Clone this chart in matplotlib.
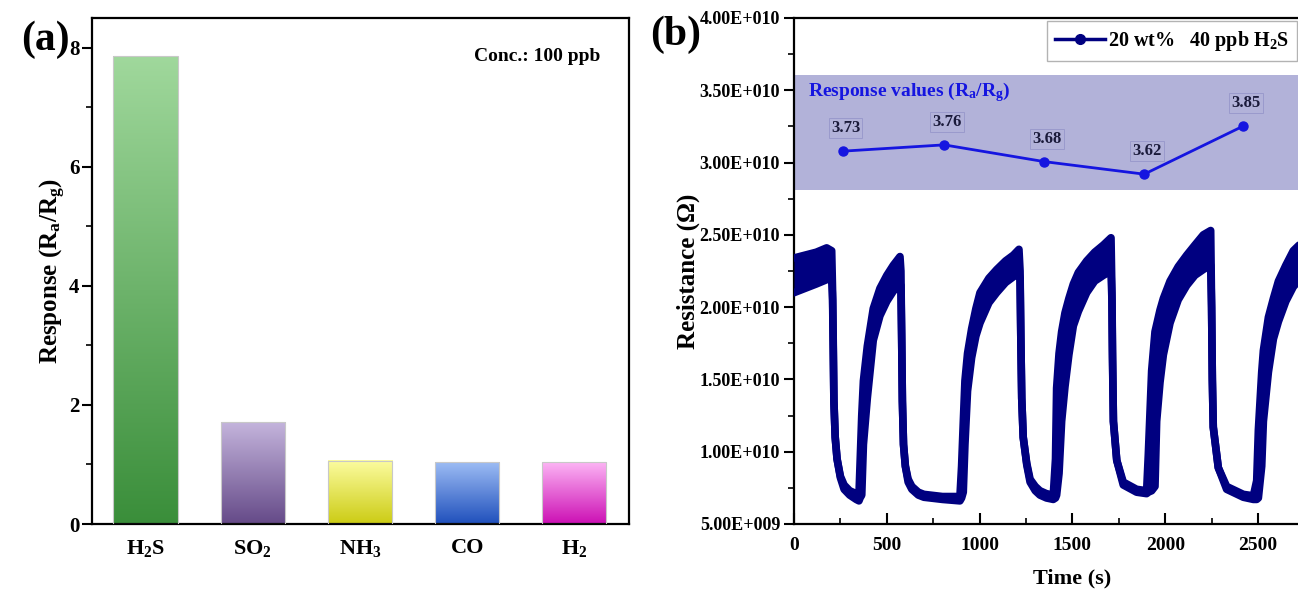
import numpy as np
import matplotlib.pyplot as plt
from matplotlib.lines import Line2D
from matplotlib.ticker import MultipleLocator, FuncFormatter
from matplotlib.colors import LinearSegmentedColormap

plt.rcParams['font.family'] = ['Liberation Serif', 'DejaVu Serif']
plt.rcParams['font.weight'] = 'bold'
plt.rcParams['mathtext.fontset'] = 'custom'
plt.rcParams['mathtext.rm'] = 'Liberation Serif:bold'
plt.rcParams['mathtext.it'] = 'Liberation Serif:bold'
plt.rcParams['mathtext.bf'] = 'Liberation Serif:bold'

# (a) response to gases at 100 ppb
gases = ['H$_2$S', 'SO$_2$', 'NH$_3$', 'CO', 'H$_2$']
response = [7.86, 1.71, 1.06, 1.04, 1.04]
top_cols = ['#a0d89c', '#c4b4dc', '#fcfca0', '#9cbcf4', '#fcb4f4']
bot_cols = ['#3a8e3a', '#654a88', '#cccc14', '#2050bc', '#cc10b4']

# (b) dynamic resistance, 20 wt% sample, 40 ppb H2S (band envelope, units 1e9 ohm)
time_s = [0, 60, 120, 176, 203,
          208, 212, 215, 222, 232, 250, 270, 300, 335, 350,
          356, 365, 374, 395, 427, 463, 500, 535, 571,
          576, 580, 584, 590, 600, 615, 635, 670, 700, 800, 894,
          903, 912, 921, 935, 957, 980, 1002, 1050, 1092, 1140, 1182, 1212,
          1218, 1222, 1227, 1235, 1254, 1272, 1300, 1325, 1360, 1397,
          1409, 1415, 1428, 1442, 1460, 1481, 1505, 1532, 1577, 1620, 1667, 1708,
          1713, 1716, 1721, 1739, 1774, 1846, 1900,
          1909, 1927, 1945, 1954, 1972, 1990, 2026, 2070, 2116, 2160, 2205, 2245,
          2250, 2254, 2259, 2286, 2331, 2421, 2475,
          2493, 2502, 2520, 2529, 2556, 2583, 2610, 2650, 2690, 2730, 2800]
res_hi = [23.4, 23.6, 23.8, 24.1, 23.9,
          21.0, 17.0, 13.5, 11.0, 9.5, 8.3, 7.7, 7.3, 7.1, 7.0,
          9.2, 12.5, 14.9, 17.3, 19.9, 21.3, 22.2, 22.9, 23.5,
          22.5, 18.0, 13.5, 10.5, 9.0, 8.1, 7.6, 7.2, 7.05, 6.9, 6.9,
          9.0, 12.0, 14.9, 16.8, 18.5, 19.9, 21.0, 22.0, 22.6, 23.2, 23.6, 24.0,
          22.5, 18.0, 13.7, 11.0, 9.2, 8.1, 7.6, 7.3, 7.1, 7.0,
          9.5, 14.4, 16.8, 18.3, 19.6, 20.6, 21.6, 22.4, 23.2, 23.8, 24.3, 24.8,
          21.0, 17.0, 12.1, 9.4, 7.9, 7.4, 7.3,
          9.8, 15.6, 18.3, 18.8, 19.8, 20.6, 21.8, 22.8, 23.6, 24.3, 25.0, 25.3,
          20.0, 15.0, 11.7, 8.9, 7.6, 7.05, 6.95,
          8.0, 11.5, 15.5, 17.0, 19.3, 20.6, 21.8, 22.9, 23.9, 24.4, 24.8]
res_lo = [21.0, 21.3, 21.6, 21.9, 22.0,
          20.5, 16.5, 13.5, 11.0, 9.5, 8.2, 7.4, 7.0, 6.7, 6.6,
          6.8, 7.0, 10.5, 13.7, 17.7, 19.4, 20.4, 21.1, 21.6,
          21.5, 18.0, 13.5, 10.5, 9.0, 7.9, 7.4, 7.0, 6.85, 6.7, 6.6,
          6.8, 7.2, 10.5, 14.2, 16.5, 18.0, 18.9, 20.3, 21.0, 21.7, 22.1, 22.3,
          22.0, 18.0, 13.7, 11.0, 9.1, 7.9, 7.3, 7.0, 6.8, 6.7,
          6.8, 7.0, 8.5, 12.1, 14.5, 16.7, 18.7, 19.7, 21.0, 21.8, 22.2, 22.5,
          20.5, 16.5, 12.1, 9.4, 7.7, 7.2, 7.1,
          7.2, 7.3, 7.6, 12.1, 14.8, 16.7, 18.9, 20.5, 21.5, 22.2, 22.6, 22.9,
          20.0, 15.0, 11.7, 8.9, 7.4, 6.85, 6.7,
          6.7, 6.8, 9.0, 12.1, 15.5, 17.8, 19.0, 20.4, 21.4, 22.0, 22.4]

# response values (Ra/Rg) of each cycle
cycle_t = [264, 809, 1348, 1887, 2421]
cycle_resp = [3.73, 3.76, 3.68, 3.62, 3.85]

fig = plt.figure(figsize=(12.98, 5.92), dpi=100)

# ---------- (a) ----------
ax1 = fig.add_axes([92 / 1298, 68 / 592, 537 / 1298, 506 / 592])
xpos = np.arange(1, len(gases) + 1)
bw = 0.6
bars = ax1.bar(xpos, response, width=bw, color='none', edgecolor='#c8c8c8', linewidth=0.8, zorder=3)
for b, c1, c2 in zip(bars, top_cols, bot_cols):
    cmap = LinearSegmentedColormap.from_list('g', [c2, c1])
    grad = np.linspace(0, 1, 256).reshape(-1, 1)
    ax1.imshow(grad, cmap=cmap, origin='lower', aspect='auto',
               extent=(b.get_x(), b.get_x() + b.get_width(), 0, b.get_height()), zorder=2)
ax1.set_xlim(0.5, 5.51)
ax1.set_ylim(0, 8.5)
ax1.set_xticks(xpos)
ax1.set_xticklabels(gases, fontsize=16, fontweight='bold')
ax1.tick_params(axis='x', length=0, pad=10)
ax1.yaxis.set_major_locator(MultipleLocator(2))
ax1.yaxis.set_minor_locator(MultipleLocator(1))
ax1.tick_params(axis='y', which='major', direction='out', length=7, width=1.5, labelsize=15, pad=2)
ax1.tick_params(axis='y', which='minor', direction='out', length=4, width=1.2)
ax1.set_ylabel('Response (R$_{\\rm a}$/R$_{\\rm g}$)', fontsize=18, fontweight='bold')
ax1.yaxis.set_label_coords(-24 / 537, 0.5)
for s in ax1.spines.values():
    s.set_linewidth(1.6)
ax1.text(0.947, 0.923, 'Conc.: 100 ppb', transform=ax1.transAxes, ha='right', va='center',
         fontsize=14, fontweight='bold')
fig.text(21 / 1298, 1 - 40 / 592, '(a)', fontsize=30, fontweight='bold', ha='left', va='center')

# ---------- (b) ----------
ax = fig.add_axes([794 / 1298, 68 / 592, 556.8 / 1298, 506 / 592])
t = np.array(time_s)
hi = np.array(res_hi) * 1e9
lo = np.array(res_lo) * 1e9
navy = '#000080'
ax.fill_between(t, lo, hi, color=navy, linewidth=0, zorder=3)
ax.plot(t, hi, color=navy, lw=5.5, solid_joinstyle='round', solid_capstyle='round', zorder=3)
ax.plot(t, lo, color=navy, lw=5.5, solid_joinstyle='round', solid_capstyle='round', zorder=3)
ax.axhspan(2.81e10, 3.606e10, color='#b2b2d9', linewidth=0, zorder=1)
ax.set_xlim(0, 3000)
ax.set_ylim(5e9, 4e10)
ax.set_xticks([0, 500, 1000, 1500, 2000, 2500, 3000])
ax.set_xticklabels(['0', '500', '1000', '1500', '2000', '2500', ''])
ax.xaxis.set_minor_locator(MultipleLocator(250))
ax.yaxis.set_major_locator(MultipleLocator(5e9))
ax.yaxis.set_minor_locator(MultipleLocator(2.5e9))


def sci(v, pos):
    if v <= 0:
        return '0'
    e = int(np.floor(np.log10(v)))
    return '%.2fE+%03d' % (v / 10 ** e, e)


ax.yaxis.set_major_formatter(FuncFormatter(sci))
ax.tick_params(axis='x', which='major', direction='in', length=8, width=1.5, labelsize=14, pad=9)
ax.tick_params(axis='x', which='minor', direction='in', length=4, width=1.2)
ax.tick_params(axis='y', which='major', direction='out', length=7, width=1.5, labelsize=13, pad=3)
ax.tick_params(axis='y', which='minor', direction='out', length=4, width=1.2)
for s in ax.spines.values():
    s.set_linewidth(1.6)
ax.set_xlabel('Time (s)', fontsize=16, fontweight='bold', labelpad=10.5)
ax.set_ylabel('Resistance (Ω)', fontsize=18, fontweight='bold')
ax.yaxis.set_label_coords(-94 / 556.8, (524 - 271) / 506)

ax2 = ax.twinx()
ax2.set_ylim(1.949, 4.366)
ax2.axis('off')
ax2.plot(cycle_t, cycle_resp, color='#1515e0', lw=2, marker='o', ms=6.5, zorder=4)
for xv, yv in zip(cycle_t, cycle_resp):
    ax2.annotate('%.2f' % yv, (xv, yv), xytext=(2, 16.5), textcoords='offset points',
                 ha='center', va='center', fontsize=12, fontweight='bold', color='#1a1a3a',
                 bbox=dict(boxstyle='square,pad=0.12', facecolor='none', edgecolor='#9a9acc', lw=0.7))
ax.text(75, 3.49e10, 'Response values (R$_{\\rm a}$/R$_{\\rm g}$)', color='#1515e0', fontsize=14,
        fontweight='bold', ha='left', va='center', zorder=5)
handle = Line2D([], [], color=navy, lw=2.5, marker='o', ms=7)
leg = ax2.legend([handle], ['20 wt%   40 ppb H$_2$S'], loc='upper left',
                 bbox_to_anchor=((1047 - 794) / 556.8, (524 - 21) / 506), fontsize=14.5,
                 frameon=True, fancybox=False, handlelength=2.5, handletextpad=0.15,
                 borderpad=0.4, borderaxespad=0)
leg.get_frame().set_edgecolor('#a0a0a0')
leg.get_frame().set_linewidth(1.0)
for txt in leg.get_texts():
    txt.set_fontweight('bold')
fig.text(650 / 1298, 1 - 35 / 592, '(b)', fontsize=30, fontweight='bold', ha='left', va='center')

fig.savefig('out.png', dpi=100)
